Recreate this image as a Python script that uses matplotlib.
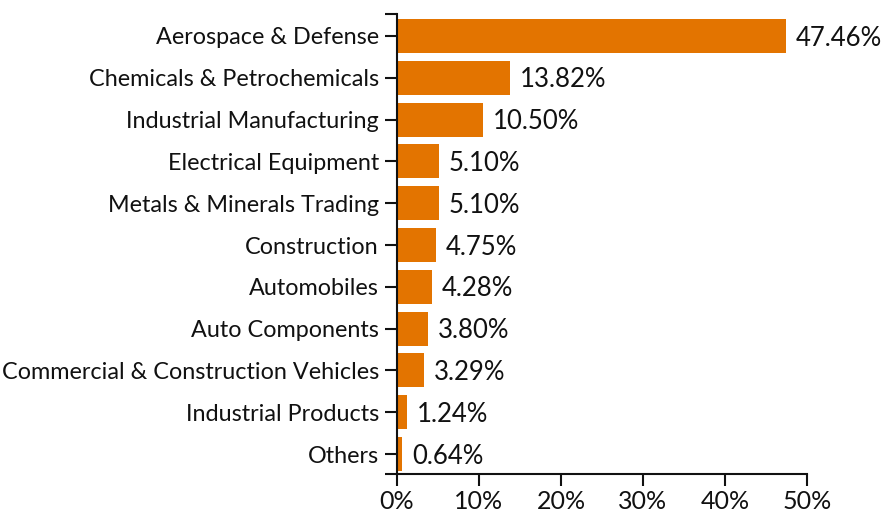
import numpy as np
import matplotlib
matplotlib.use('Agg')
import matplotlib.pyplot as plt

# データ
sectors = ['Aerospace & Defense', 'Chemicals & Petrochemicals',
           'Industrial Manufacturing', 'Electrical Equipment',
           'Metals & Minerals Trading', 'Construction', 'Automobiles',
           'Auto Components', 'Commercial & Construction Vehicles',
           'Industrial Products', 'Others']
weights = [47.46, 13.82, 10.50, 5.10, 5.10, 4.75, 4.28, 3.80, 3.29, 1.24, 0.64]
x_ticks = [0, 10, 20, 30, 40, 50]

plt.rcParams['font.family'] = ['Lato', 'DejaVu Sans']

fig = plt.figure(figsize=(8.85, 5.09), dpi=100)
W, H = 885, 509
ax = fig.add_axes([397 / W, 1 - 474 / H, (807 - 397) / W, (474 - 14) / H])

y = np.arange(len(sectors))
ax.barh(y, weights, height=0.813, color='#e37400')

for yi, v in zip(y, weights):
    ax.text(v + 1.2, yi + 0.05, '{:.2f}%'.format(v), va='center', ha='left',
            fontsize=18.5, color='#111111')

ax.set_xlim(0, 50)
ax.set_ylim(len(sectors) - 1 + 0.478, -0.526)
ax.set_yticks(y)
ax.set_yticklabels(sectors)
ax.set_yticks([len(sectors) - 1 + 0.478, -0.526], minor=True)
ax.set_xticks(x_ticks)
ax.set_xticklabels(['{}%'.format(t) for t in x_ticks])

for s in ['top', 'right']:
    ax.spines[s].set_visible(False)
for s in ['left', 'bottom']:
    ax.spines[s].set_linewidth(1.5)
    ax.spines[s].set_color('#111111')

ax.tick_params(axis='both', which='both', length=8.6, width=1.5,
               color='#111111', pad=4.5)
ax.tick_params(axis='y', labelsize=16.8, labelcolor='#111111')
ax.tick_params(axis='x', labelsize=18, labelcolor='#111111', pad=3)

fig.savefig('out.png', dpi=100)
